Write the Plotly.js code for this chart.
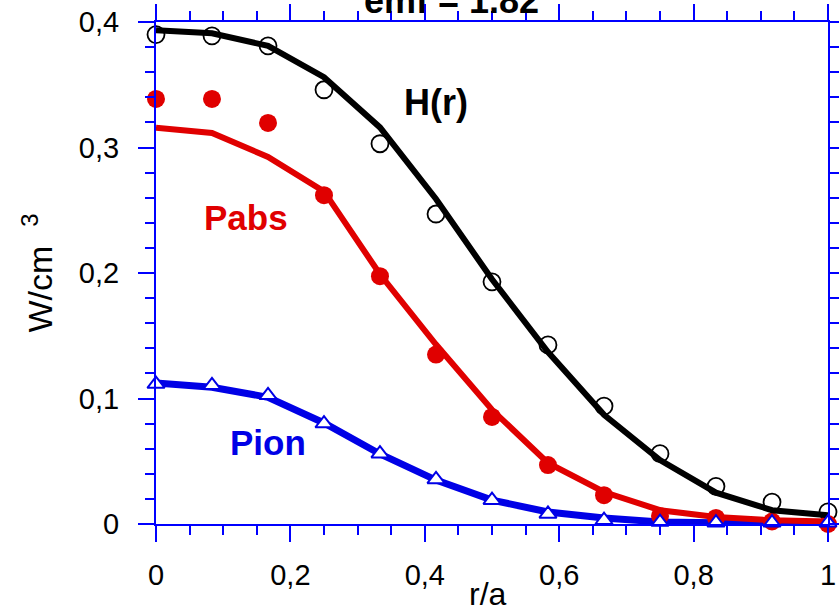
<!DOCTYPE html>
<html>
<head>
<meta charset="utf-8">
<script src="https://cdn.plot.ly/plotly-3.0.1.min.js"></script>
<style>html,body{margin:0;padding:0;background:#fff;}#chart{width:839px;height:616px;}</style>
</head>
<body>
<div id="chart"></div>
<script>
// r/a positions of the profile points
const rPos = [0, 0.0833, 0.1667, 0.25, 0.3333, 0.4167, 0.5, 0.5833, 0.6667, 0.75, 0.8333, 0.9167, 1];
// H(r) : open circles (measured) and black curve
const hPoints = [0.390, 0.389, 0.381, 0.346, 0.303, 0.247, 0.193, 0.1427, 0.094, 0.056, 0.030, 0.0175, 0.0096];
const hLine   = [0.3935, 0.391, 0.381, 0.356, 0.316, 0.259, 0.195, 0.137, 0.087, 0.051, 0.025, 0.011, 0.007];
// Pabs : filled red circles and red curve
const pabsPoints = [0.3387, 0.3387, 0.3196, 0.262, 0.1975, 0.135, 0.0853, 0.047, 0.023, 0.0064, 0.0048, 0.002, 0.0];
const pabsLine   = [0.3157, 0.3116, 0.2925, 0.265, 0.199, 0.143, 0.091, 0.0486, 0.0255, 0.011, 0.0056, 0.003, 0.002];
// Pion : open triangles and blue curve
const pionPoints = [0.1115, 0.1105, 0.1025, 0.080, 0.056, 0.0355, 0.019, 0.008, 0.003, 0.0015, 0.001, 0.001, 0.001];
const pionLine   = [0.1124, 0.109, 0.101, 0.0805, 0.0558, 0.035, 0.019, 0.0096, 0.0048, 0.0016, 0.001, 0.0008, 0.0006];
// text
const titleText = "emf = 1.82";
const xTitle = "r/a";
const yTitle = "W/cm  <sup>3</sup>";
const seriesLabels = ["H(r)", "Pabs", "Pion"];

const FONT = "Liberation Sans, Arial, sans-serif";
const RED = "#e00000";
const BLUE = "#0000e6";
const AXIS = "#0000ff";

const traces = [
  {x: rPos, y: pionLine, mode: "lines", line: {color: BLUE, width: 7}, cliponaxis: false, hoverinfo: "skip"},
  {x: rPos, y: hPoints, mode: "markers", marker: {symbol: "circle-open", size: 17, color: "#000", line: {width: 1.8, color: "#000"}}, cliponaxis: false},
  {x: rPos, y: pabsPoints, mode: "markers", marker: {symbol: "circle", size: 18, color: RED}, cliponaxis: false},
  {x: rPos, y: hLine, mode: "lines", line: {color: "#000", width: 6}, cliponaxis: false},
  {x: rPos, y: pabsLine, mode: "lines", line: {color: RED, width: 6}, cliponaxis: false},
  {x: rPos, y: pionPoints, mode: "markers", marker: {symbol: "triangle-up", size: 15, color: "#fff", line: {width: 2, color: BLUE}}, cliponaxis: false}
];

const axisCommon = {
  showline: true, linecolor: AXIS, linewidth: 2, mirror: "ticks",
  ticks: "outside", tickcolor: AXIS, tickwidth: 2, ticklen: 16,
  showgrid: false, zeroline: false,
  tickfont: {family: FONT, size: 29, color: "#000"}
};

const layout = {
  width: 839, height: 616,
  margin: {l: 156, r: 11, t: 22, b: 92, pad: 0},
  paper_bgcolor: "#fff", plot_bgcolor: "#fff",
  showlegend: false,
  separators: ", ",
  font: {family: FONT, color: "#000"},
  xaxis: Object.assign({}, axisCommon, {
    range: [0, 1], tick0: 0, dtick: 0.2,
    minor: {dtick: 0.05, ticks: "outside", ticklen: 9, tickcolor: AXIS, tickwidth: 2, showgrid: false},
    ticklabelstandoff: 8
  }),
  yaxis: Object.assign({}, axisCommon, {
    range: [0, 0.4], tick0: 0, dtick: 0.1,
    minor: {dtick: 0.02, ticks: "outside", ticklen: 9, tickcolor: AXIS, tickwidth: 2, showgrid: false},
    ticklabelstandoff: 13,
    title: {text: yTitle, font: {family: FONT, size: 34, color: "#000"}, standoff: 16}
  }),
  annotations: [
    {xref: "paper", yref: "paper", x: 0.44, y: 1.042, xanchor: "center", yanchor: "middle", showarrow: false,
     text: "<b>" + titleText + "</b>", font: {family: FONT, size: 36, color: "#000"}},
    {xref: "paper", yref: "paper", x: 0.494, y: -0.139, xanchor: "center", yanchor: "middle", showarrow: false,
     text: xTitle, font: {family: FONT, size: 32, color: "#000"}},
    {xref: "x", yref: "y", x: 0.4167, y: 0.336, showarrow: false, text: "<b>" + seriesLabels[0] + "</b>",
     font: {family: FONT, size: 36, color: "#000"}},
    {xref: "x", yref: "y", x: 0.134, y: 0.244, showarrow: false, text: "<b>" + seriesLabels[1] + "</b>",
     font: {family: FONT, size: 35, color: RED}},
    {xref: "x", yref: "y", x: 0.1667, y: 0.065, showarrow: false, text: "<b>" + seriesLabels[2] + "</b>",
     font: {family: FONT, size: 35, color: BLUE}}
  ]
};

Plotly.newPlot("chart", traces, layout, {staticPlot: true, displayModeBar: false});
</script>
</body>
</html>
